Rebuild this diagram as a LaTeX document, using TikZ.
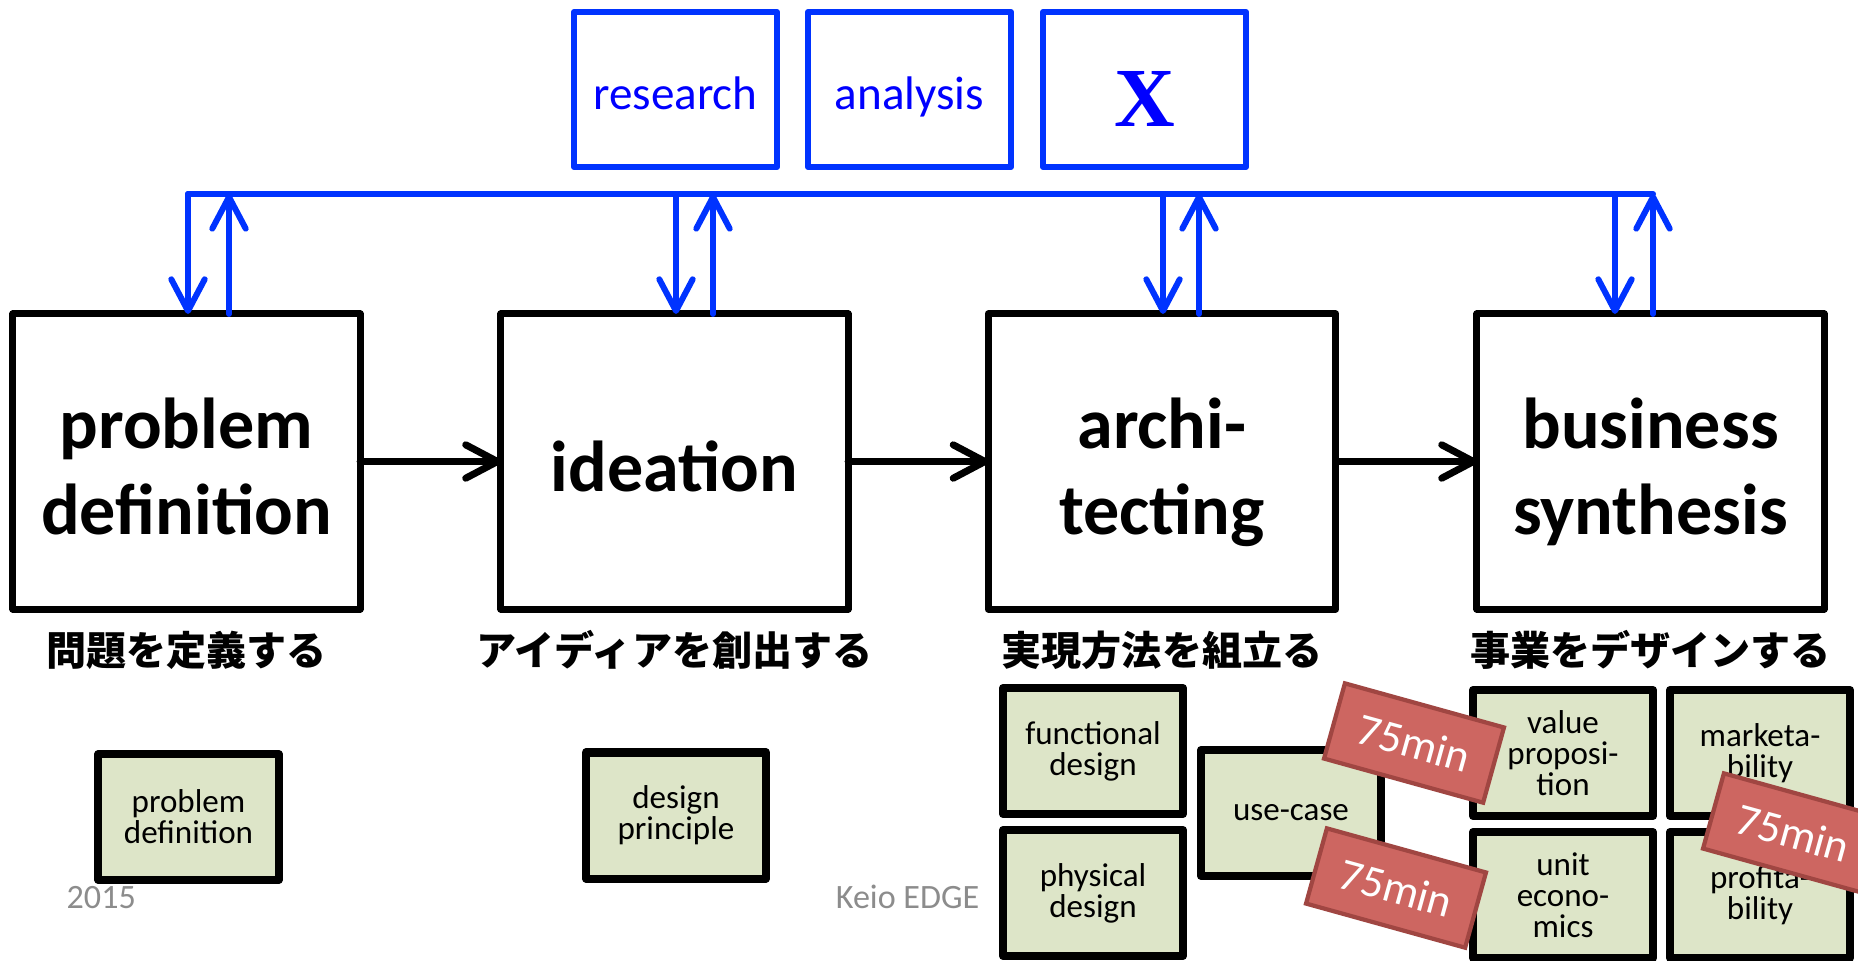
\documentclass[tikz,border=0pt]{standalone}
\usepackage{fontspec}
\setmainfont{Carlito}
\newfontfamily\jpfont{Noto Sans CJK JP}
\newfontfamily\xfont{Liberation Serif}
\usetikzlibrary{arrows.meta}

\definecolor{busblue}{RGB}{0,51,255}
\definecolor{txtblue}{RGB}{0,0,255}
\definecolor{cardgreen}{RGB}{221,229,200}
\definecolor{tagfill}{RGB}{205,102,97}
\definecolor{tagline}{RGB}{160,70,66}
\definecolor{footgray}{RGB}{140,140,140}

\begin{document}
\begin{tikzpicture}[x=0.01cm,y=-0.01cm,
  stage/.style={draw=black, line width=2pt, line join=round, minimum width=3.47cm,
    minimum height=2.95cm, inner sep=0pt, outer sep=0pt},
  stagetext/.style={font=\fontsize{20.5pt}{24.5pt}\selectfont\bfseries, align=center,
    inner sep=0pt},
  tool/.style={draw=busblue, line width=1.7pt, line join=round, minimum width=2.03cm,
    minimum height=1.55cm, inner sep=0pt, outer sep=0pt},
  tooltext/.style={text=txtblue, font=\fontsize{13.4pt}{16pt}\selectfont, inner sep=0pt},
  jlabel/.style={font=\jpfont\bfseries\fontsize{11.4pt}{13pt}\selectfont, inner sep=0pt},
  card/.style={draw=black, fill=cardgreen, line width=2.3pt, line join=round,
    minimum width=1.8cm, minimum height=1.26cm, inner sep=0pt, align=center,
    font=\fontsize{9.4pt}{8.8pt}\selectfont},
  tag/.style={draw=tagline, fill=tagfill, line width=1.2pt, minimum width=1.65cm,
    minimum height=0.78cm, inner sep=0pt, text=white, rotate=-15.5,
    font=\fontsize{12.8pt}{15pt}\selectfont},
  flow/.style={draw=black, line width=2pt, line cap=round,
    -{Straight Barb[length=9pt, width=9.5pt, line cap=round, line join=round]}},
  feed/.style={draw=busblue, line width=1.7pt, line cap=round, line join=round},
  feedarrow/.style={feed, -{Straight Barb[length=9pt, width=9.5pt, line cap=round, line join=round]}},
  foot/.style={text=footgray, font=\fontsize{9.7pt}{11pt}\selectfont, inner sep=0pt}
]
\useasboundingbox (0,0) rectangle (1858,960);
\clip (0,0) rectangle (1858,960);

% tool boxes on top
\node[tool] (research) at (675.5,89.5) {};
\node[tool] (analysis) at (909.5,89.5) {};
\node[tool] (xbox) at (1144.5,89.5) {};
\node[tooltext, anchor=base] (research-t) at (675.5,109) {research};
\node[tooltext, anchor=base] (analysis-t) at (909.5,109) {analysis};
\node[anchor=base, inner sep=0pt, text=txtblue,
  font=\xfont\bfseries\fontsize{23.9pt}{26pt}\selectfont] (x-t) at (1145,126) {X};

% the four stages
\node[stage] (s1) at (186.5,461.5) {};
\node[stage] (s2) at (674.5,461.5) {};
\node[stage] (s3) at (1162,461.5) {};
\node[stage] (s4) at (1650.5,461.5) {};
\node[stagetext] (s1-t) at (186.5,472) {problem\vphantom{bg}\\definition\vphantom{bg}};
\node[stagetext] (s2-t) at (674.5,472) {ideation\vphantom{bg}};
\node[stagetext] (s3-t) at (1162,472) {archi-\vphantom{bg}\\tecting\vphantom{bg}};
\node[stagetext] (s4-t) at (1650.5,472) {business\vphantom{bg}\\synthesis\vphantom{bg}};

% Japanese captions
\node[jlabel] (j1) at (186.5,650) {問題を定義する};
\node[jlabel] (j2) at (674.5,650) {アイディアを創出する};
\node[jlabel] (j3) at (1162,650) {実現方法を組立る};
\node[jlabel] (j4) at (1650.5,650) {事業をデザインする};

% main flow
\draw[flow] (s1.east) -- (s2.west);
\draw[flow] (s2.east) -- (s3.west);
\draw[flow] (s3.east) -- (s4.west);

% feedback bus
\coordinate (d1) at (188,194);  \coordinate (u1) at (229,194);
\coordinate (d2) at (676,194);  \coordinate (u2) at (713,194);
\coordinate (d3) at (1163,194); \coordinate (u3) at (1199,194);
\coordinate (d4) at (1615,194); \coordinate (u4) at (1653,194);
\draw[feed] (d1) -- (u4);
\draw[feedarrow] (d1) -- (d1 |- s1.north);
\draw[feedarrow] (u1 |- s1.north) -- (u1);
\draw[feedarrow] (d2) -- (d2 |- s2.north);
\draw[feedarrow] (u2 |- s2.north) -- (u2);
\draw[feedarrow] (d3) -- (d3 |- s3.north);
\draw[feedarrow] (u3 |- s3.north) -- (u3);
\draw[feedarrow] (d4) -- (d4 |- s4.north);
\draw[feedarrow] (u4 |- s4.north) -- (u4);

% work sheets
\node[card] (c-pd) at (188.5,817) {problem\\definition};
\node[card] (c-dp) at (676,815.5) {design\\principle};
\node[card] (c-fd) at (1093,751) {functional\\design};
\node[card] (c-ph) at (1093,893) {physical\\design};
\node[card] (c-uc) at (1291,813) {use-case};
\node[card] (c-vp) at (1563,753) {value\\proposi-\\tion};
\node[card] (c-mk) at (1760,753) {marketa-\\bility};
\node[card] (c-ue) at (1563,895) {unit\\econo-\\mics};
\node[card] (c-pr) at (1760,895) {profita-\\bility};

% time tags
\node[tag] (t1) at (1414,743) {75min};
\node[tag] (t2) at (1396,888) {75min};
\node[tag] (t3) at (1793,833) {75min};

% footer
\node[foot, anchor=base west] (year) at (66,908) {2015};
\node[foot, anchor=base east] (org) at (980,908) {Keio EDGE};
\end{tikzpicture}
\end{document}
